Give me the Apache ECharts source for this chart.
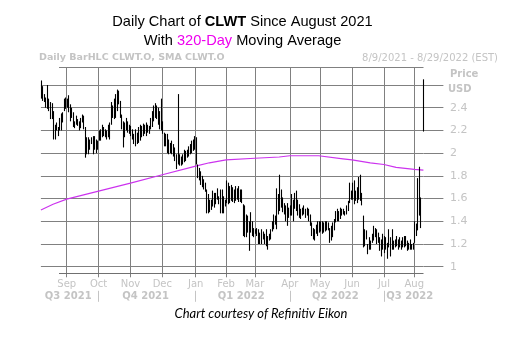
<!DOCTYPE html>
<html><head><meta charset="utf-8">
<script src="https://cdn.jsdelivr.net/npm/echarts@6/dist/echarts.min.js"></script>
<style>html,body{margin:0;padding:0;background:#fff}#c{width:523px;height:354px}</style>
</head><body><div id="c"></div>
<script>
// ---- data ----
const startDate = '2021-08-09';
const endDate = '2022-08-09';
const holidays = ['2021-09-06','2021-11-25','2021-12-24','2022-01-17','2022-02-21','2022-04-15','2022-05-30','2022-06-20','2022-07-04'];

const highs = [
2.64,2.59,2.52,2.49,2.60,2.48,2.45,2.44,2.37,2.25,
2.27,2.23,2.31,2.35,2.36,2.48,2.49,2.48,2.51,2.43,
2.40,2.36,2.28,2.33,2.30,2.28,2.31,2.34,2.33,2.23,
2.14,2.14,2.12,2.14,2.15,2.15,2.12,2.11,2.20,2.21,
2.25,2.23,2.21,2.20,2.25,2.27,2.45,2.42,2.48,2.52,
2.56,2.55,2.46,2.34,2.28,2.27,2.31,2.28,2.25,2.24,
2.21,2.17,2.21,2.18,2.23,2.25,2.24,2.26,2.25,2.27,
2.25,2.24,2.31,2.37,2.42,2.44,2.42,2.40,2.37,2.48,
2.28,2.18,2.17,2.17,2.12,2.09,2.11,2.08,2.05,1.99,
2.52,1.99,1.97,1.99,2.03,2.02,2.03,2.06,2.08,2.11,
2.12,2.15,2.14,1.90,1.87,1.84,1.80,1.77,1.74,1.68,
1.64,1.59,1.59,1.67,1.65,1.65,1.69,1.62,1.68,1.68,
1.62,1.59,1.76,1.74,1.71,1.72,1.70,1.68,1.71,1.69,
1.71,1.68,1.68,1.55,1.54,1.46,1.45,1.40,1.48,1.40,
1.34,1.33,1.34,1.33,1.30,1.33,1.31,1.29,1.33,1.27,
1.29,1.33,1.40,1.46,1.45,1.69,1.64,1.81,1.68,1.61,
1.56,1.54,1.56,1.52,1.54,1.64,1.59,1.65,1.67,1.59,
1.55,1.51,1.52,1.54,1.51,1.52,1.51,1.46,1.39,1.34,
1.33,1.37,1.40,1.40,1.40,1.40,1.39,1.40,1.40,1.39,
1.34,1.36,1.39,1.42,1.49,1.51,1.49,1.52,1.51,1.51,
1.49,1.54,1.58,1.74,1.67,1.74,1.76,1.67,1.70,1.79,
1.81,1.65,1.45,1.33,1.32,1.20,1.26,1.23,1.29,1.36,
1.34,1.33,1.30,1.26,1.24,1.29,1.27,1.26,1.21,1.33,
1.26,1.33,1.23,1.24,1.27,1.24,1.26,1.23,1.26,1.27,
1.27,1.23,1.21,1.24,1.20,1.21,1.40,1.38,1.78,1.88,
1.61,null,2.65];

const lows = [
2.48,2.46,2.45,2.40,2.39,2.37,2.30,2.30,2.12,2.12,
2.20,2.15,2.20,2.20,2.27,2.37,2.39,2.40,2.36,2.28,
2.31,2.23,2.22,2.25,2.24,2.20,2.22,2.27,2.21,1.96,
1.99,1.99,2.03,2.08,1.99,2.03,2.00,2.03,2.11,2.11,
2.14,2.15,2.14,2.12,2.14,2.12,2.25,2.31,2.30,2.31,
2.37,2.43,2.31,2.21,2.05,2.14,2.20,2.18,2.17,2.15,
2.12,2.08,2.06,2.08,2.09,2.11,2.14,2.15,2.17,2.15,
2.18,2.17,2.21,2.23,2.28,2.31,2.30,2.25,2.21,2.20,
2.17,2.06,2.06,2.00,1.99,2.00,1.99,1.97,1.93,1.86,
1.90,1.89,1.89,1.90,1.92,1.93,1.96,1.97,1.99,2.00,
2.02,2.03,1.90,1.78,1.76,1.72,1.70,1.68,1.66,1.47,
1.47,1.48,1.50,1.53,1.52,1.55,1.59,1.55,1.47,1.47,
1.47,1.53,1.56,1.55,1.56,1.58,1.57,1.56,1.58,1.59,
1.57,1.57,1.56,1.27,1.26,1.26,1.30,1.14,1.30,1.27,
1.26,1.29,1.27,1.20,1.20,1.20,1.24,1.20,1.18,1.15,
1.23,1.24,1.31,1.33,1.37,1.33,1.46,1.49,1.52,1.48,
1.46,1.40,1.36,1.43,1.45,1.45,1.40,1.51,1.49,1.45,
1.43,1.42,1.45,1.46,1.43,1.45,1.40,1.36,1.27,1.24,
1.23,1.29,1.27,1.30,1.31,1.29,1.30,1.31,1.32,1.32,
1.21,1.23,1.26,1.32,1.39,1.40,1.40,1.42,1.45,1.46,
1.45,1.46,1.49,1.56,1.59,1.59,1.55,1.58,1.56,1.59,
1.58,1.54,1.17,1.18,1.24,1.11,1.15,1.15,1.21,1.23,
1.26,1.20,1.21,1.14,1.09,1.15,1.12,1.15,1.07,1.17,
1.09,1.15,1.15,1.17,1.18,1.15,1.17,1.15,1.17,1.17,
1.18,1.14,1.15,1.15,1.15,1.15,1.21,1.27,1.32,1.45,
1.34,null,2.19];

const maDates = ['2021-08-09','2021-08-19','2021-09-01','2021-10-01','2021-11-01','2021-12-01','2022-01-03','2022-01-14','2022-02-01','2022-03-01','2022-03-23','2022-04-01','2022-04-29','2022-05-23','2022-06-01','2022-06-17','2022-07-01','2022-07-14','2022-08-01','2022-08-09'];
const maValues = [1.50,1.55,1.595,1.665,1.736,1.81,1.885,1.915,1.94,1.955,1.966,1.977,1.977,1.95,1.94,1.915,1.90,1.875,1.857,1.85];

const monthNames = ['Jan','Feb','Mar','Apr','May','Jun','Jul','Aug','Sep','Oct','Nov','Dec'];
const quarterLabelDates = ['2021-09-02','2021-11-15','2022-02-15','2022-05-16','2022-07-27'];
const quarterLabels = ['Q3 2021','Q4 2021','Q1 2022','Q2 2022','Q3 2022'];
const quarterStartMonths = [0,3,6,9];

// ---- trading-day categories ----
const dates = [];
(function(){
  const fmt = d => d.toISOString().slice(0,10);
  const d = new Date(startDate + 'T00:00:00Z');
  while (fmt(d) <= endDate) {
    const wd = d.getUTCDay();
    if (wd !== 0 && wd !== 6 && holidays.indexOf(fmt(d)) < 0) dates.push(fmt(d));
    d.setUTCDate(d.getUTCDate() + 1);
  }
})();
const monthOf = s => parseInt(s.slice(5,7),10) - 1;
const isMonthStart = i => i > 0 && monthOf(dates[i]) !== monthOf(dates[i-1]);
const isQuarterStart = i => isMonthStart(i) && quarterStartMonths.indexOf(monthOf(dates[i])) >= 0;
const qLabelIndex = {};
quarterLabelDates.forEach((d,k) => { qLabelIndex[dates.indexOf(d)] = quarterLabels[k]; });

const barData = [];
dates.forEach((d,i) => { if (highs[i] != null && lows[i] != null) barData.push([i, highs[i], lows[i]]); });
const maData = maDates.map((d,i) => [d, maValues[i]]);

const GRAY = '#808080';
const LIGHT = '#c4c4c4';
const FONT = 'DejaVu Sans';
const L = 40.9, R = 99.6;

const chart = echarts.init(document.getElementById('c'), null, {renderer:'canvas'});
chart.setOption({
  animation: false,
  backgroundColor: '#fff',
  grid: [
    {left: L, right: R, top: 85, bottom: 87.3},
    {left: L, right: R, top: 67.3, bottom: 80.7}
  ],
  xAxis: [
    {gridIndex: 0, type: 'category', data: dates, boundaryGap: false, show: false},
    {gridIndex: 1, type: 'category', position: 'bottom', data: dates, boundaryGap: false,
      axisLine: {show: false},
      axisTick: {show: true, interval: (i) => isMonthStart(i), length: 4, lineStyle: {color: GRAY}},
      splitLine: {show: true, interval: (i) => isMonthStart(i), lineStyle: {color: GRAY, width: 1}},
      axisLabel: {show: true, interval: (i) => isMonthStart(i), formatter: (v) => monthNames[monthOf(v)],
        color: LIGHT, fontSize: 10, fontFamily: FONT, margin: 6}},
    {gridIndex: 1, type: 'category', position: 'bottom', data: dates, boundaryGap: false, offset: 17.5,
      axisLine: {show: false},
      axisTick: {show: true, interval: (i) => isQuarterStart(i), length: 11, lineStyle: {color: LIGHT}},
      splitLine: {show: false},
      axisLabel: {show: true, interval: (i) => qLabelIndex[i] !== undefined, formatter: (v, i) => qLabelIndex[i] || '',
        color: LIGHT, fontSize: 10, fontWeight: 'bold', fontFamily: FONT, margin: 1}}
  ],
  yAxis: [
    {gridIndex: 0, type: 'value', position: 'right', min: 1, max: 2.6, interval: 0.2,
      axisLine: {show: false},
      axisTick: {show: true, length: 20, lineStyle: {color: GRAY}},
      splitLine: {show: true, lineStyle: {color: GRAY, width: 1}},
      axisLabel: {margin: 26.5, color: LIGHT, fontSize: 11, fontFamily: FONT,
        formatter: (v) => Math.abs(v - 2.6) < 1e-6 ? '' : String(Math.round(v * 10) / 10)}},
    {gridIndex: 1, type: 'value', min: 0, max: 1, show: false}
  ],
  series: [
    {type: 'line', xAxisIndex: 0, yAxisIndex: 0, data: maData, symbol: 'none',
      lineStyle: {color: '#cc33ee', width: 1.2}, z: 3},
    {type: 'custom', xAxisIndex: 0, yAxisIndex: 0, data: barData, encode: {x: 0, y: [1, 2]}, z: 4,
      renderItem: function (params, api) {
        const x = api.value(0);
        const p1 = api.coord([x, api.value(1)]);
        const p2 = api.coord([x, api.value(2)]);
        const px = Math.round(p1[0]) + 0.5;
        return {type: 'line', shape: {x1: px, y1: p1[1], x2: px, y2: p2[1]},
          style: {stroke: '#000', lineWidth: 1.1}};
      }}
  ],
  graphic: [
    {type: 'line', shape: {x1: 59, y1: 67.5, x2: 423.5, y2: 67.5}, style: {stroke: GRAY, lineWidth: 1}, z: 1},
    {type: 'line', shape: {x1: 59, y1: 273.5, x2: 423.5, y2: 273.5}, style: {stroke: '#707070', lineWidth: 1}, z: 1},
    {type: 'text', x: 242.5, y: 22, style: {
      text: '{a|Daily Chart of }{b|CLWT}{a| Since August 2021}', align: 'center', verticalAlign: 'middle',
      rich: {a: {fontFamily: 'Liberation Sans', fontSize: 14.6, fill: '#000'},
             b: {fontFamily: 'Liberation Sans', fontSize: 14.6, fontWeight: 'bold', fill: '#000'}}}},
    {type: 'text', x: 242.5, y: 41, style: {
      text: '{a|With }{m|320-Day}{a| Moving Average}', align: 'center', verticalAlign: 'middle',
      rich: {a: {fontFamily: 'Liberation Sans', fontSize: 14.6, fill: '#000'},
             m: {fontFamily: 'Liberation Sans', fontSize: 14.6, fill: '#ee00ee'}}}},
    {type: 'text', x: 39, y: 58, style: {text: 'Daily BarHLC CLWT.O, SMA CLWT.O', fontFamily: FONT,
      fontSize: 9.5, fontWeight: 'bold', fill: LIGHT, align: 'left', verticalAlign: 'middle'}},
    {type: 'text', x: 498, y: 58, style: {text: '8/9/2021 - 8/29/2022 (EST)', fontFamily: FONT,
      fontSize: 10, fill: LIGHT, align: 'right', verticalAlign: 'middle'}},
    {type: 'text', x: 450, y: 74, style: {text: 'Price', fontFamily: FONT, fontSize: 10, fontWeight: 'bold',
      fill: LIGHT, align: 'left', verticalAlign: 'middle'}},
    {type: 'text', x: 448, y: 89, style: {text: 'USD', fontFamily: FONT, fontSize: 10, fontWeight: 'bold',
      fill: LIGHT, align: 'left', verticalAlign: 'middle'}},
    {type: 'text', x: 261, y: 314, style: {text: 'Chart courtesy of Refinitiv Eikon', fontFamily: 'Lato',
      fontSize: 13, fontStyle: 'italic', fill: '#000', align: 'center', verticalAlign: 'middle'}}
  ]
});
</script>
</body></html>
